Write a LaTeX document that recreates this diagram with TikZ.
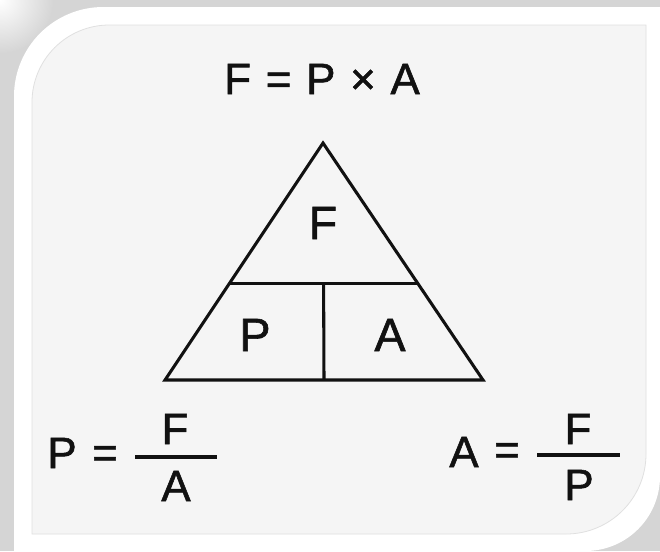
\documentclass[tikz,border=0pt]{standalone}
\usepackage{fontspec}
\setmainfont{Liberation Sans}[BoldFont=Liberation Sans,BoldFeatures={FakeBold=1.3}]
\usepackage{tikz}
\usetikzlibrary{calc}
\usepackage{xcolor}
\definecolor{fshade}{HTML}{D5D5D5}
\definecolor{fpanel}{HTML}{F5F5F5}
\definecolor{fedge}{HTML}{E0E0E0}
\definecolor{fink}{HTML}{111111}
\tikzset{
  lbl/.style    = {inner sep=0pt, text=fink, font=\fontsize{33}{40}\selectfont\bfseries},
  cell/.style   = {inner sep=0pt, text=fink, font=\fontsize{35}{42}\selectfont\bfseries},
  edge/.style   = {draw=fink, line width=2.3pt},
  fracbar/.style= {draw=fink, line width=3pt},
}
\begin{document}
\begin{tikzpicture}[x=0.75pt,y=-0.75pt]
\useasboundingbox (0,0) rectangle (660,551);
% frame and panel
\fill[fshade] (0,0) rectangle (660,551);
\shade[inner color=white,outer color=fshade] (0,0) circle (40pt);
\fill[white] [rounded corners=67pt] (14,300) -- (14,7) -- (300,7) [sharp corners] -- (660,7)
  -- (660,300) [rounded corners=56pt] -- (660,551) -- (300,551) [sharp corners] -- (14,551) -- cycle;
\filldraw[fill=fpanel,draw=fedge,line width=0.6pt] [rounded corners=58pt] (32,300) -- (32,25) -- (300,25) [sharp corners] -- (646,25)
  -- (646,300) [rounded corners=60pt] -- (646,534) -- (300,534) [sharp corners] -- (32,534) -- cycle;

\node[lbl] (law) at (322,79) {F\,\,=\,\,P\,\,×\,\,A};

% triangle
\coordinate (apex) at (323,143);
\coordinate (bl) at (165,380);
\coordinate (br) at (483,380);
\coordinate (ml) at ($(bl)!0.409!(apex)$);
\coordinate (mr) at ($(br)!0.409!(apex)$);
\coordinate (mtop) at ($(ml)!0.5!(mr)$);
\coordinate (mbot) at ($(bl)!0.5!(br)$);
\draw[edge] (apex) -- (bl) -- (br) -- cycle;
\draw[edge] (ml) -- (mr);
\draw[edge] (mtop) -- (mbot);
\node[cell] (force) at (323,223) {F};
\node[cell] (press) at (255,335) {P};
\node[cell] (area) at (390,335) {A};

% P = F/A
\node[lbl] (pl) at (62,453) {P};
\node[lbl] (eql) at (105,457) {=};
\coordinate (barla) at (135,457);
\coordinate (barlb) at (217,457);
\draw[fracbar] (barla) -- (barlb);
\node[lbl] (numl) at (175,429) {F};
\node[lbl] (denl) at (176,486) {A};

% A = F/P
\node[lbl] (ar) at (464,452) {A};
\node[lbl] (eqr) at (507,454) {=};
\coordinate (barra) at (537,455);
\coordinate (barrb) at (620,455);
\draw[fracbar] (barra) -- (barrb);
\node[lbl] (numr) at (578,429) {F};
\node[lbl] (denr) at (579,485) {P};
\end{tikzpicture}
\end{document}
